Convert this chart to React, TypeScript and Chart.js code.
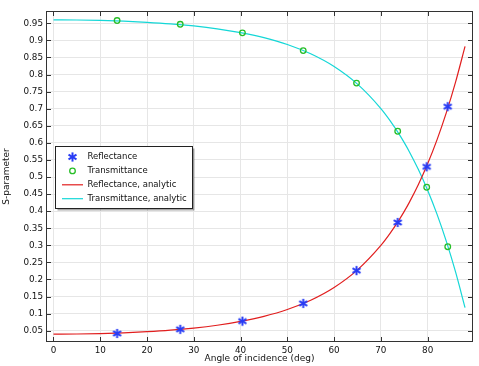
import React, { useEffect, useRef } from "react";
import { Chart, registerables } from "chart.js";

Chart.register(...registerables);

// Measured samples
const sampleAngles = [13.6, 27.1, 40.4, 53.4, 64.8, 73.6, 79.8, 84.3];
const reflectance = [0.042, 0.054, 0.078, 0.13, 0.226, 0.367, 0.53, 0.706];
const transmittance = [0.958, 0.947, 0.922, 0.87, 0.775, 0.634, 0.47, 0.296];

// Analytic curves
const curveAngles = [0, 5, 10, 15, 20, 25, 30, 35, 40, 45, 50, 55, 60, 65, 70, 72, 74, 75, 76, 78, 80, 82, 84, 86, 88];
const reflectanceAnalytic = [
  0.04, 0.0404, 0.0417, 0.0438, 0.0471, 0.0516, 0.0578, 0.0661, 0.0772, 0.092, 0.112, 0.1393, 0.1766,
  0.2281, 0.2996, 0.3356, 0.3767, 0.3994, 0.4236, 0.4773, 0.5386, 0.6086, 0.6884, 0.7793, 0.8826,
];
const transmittanceAnalytic = [
  0.96, 0.9596, 0.9583, 0.9562, 0.9529, 0.9484, 0.9422, 0.9339, 0.9228, 0.908, 0.888, 0.8607, 0.8234,
  0.7719, 0.7004, 0.6644, 0.6233, 0.6006, 0.5764, 0.5227, 0.4614, 0.3914, 0.3116, 0.2207, 0.1174,
];

const xTicks = [0, 10, 20, 30, 40, 50, 60, 70, 80];
const xTickLabels = ["0", "10", "20", "30", "40", "50", "60", "70", "80"];
const yTicks = [0.05, 0.1, 0.15, 0.2, 0.25, 0.3, 0.35, 0.4, 0.45, 0.5, 0.55, 0.6, 0.65, 0.7, 0.75, 0.8, 0.85, 0.9, 0.95];
const yTickLabels = ["0.05", "0.1", "0.15", "0.2", "0.25", "0.3", "0.35", "0.4", "0.45", "0.5", "0.55", "0.6", "0.65", "0.7", "0.75", "0.8", "0.85", "0.9", "0.95"];

const legendLabels = ["Reflectance", "Transmittance", "Reflectance, analytic", "Transmittance, analytic"];

const BLUE = "rgb(40,60,245)";
const GREEN = "rgb(40,190,40)";
const RED = "rgb(225,30,30)";
const CYAN = "rgb(20,215,215)";
const FONT = "DejaVu Sans";
const FS = 8.5;
const TICK_FS = 8.8;
const TITLE_FS = 9;

function drawAsterisk(ctx: CanvasRenderingContext2D, cx: number, cy: number, r: number) {
  ctx.save();
  ctx.strokeStyle = BLUE;
  ctx.lineWidth = 2;
  ctx.lineCap = "butt";
  for (const a of [90, 30, 150]) {
    const rad = (a * Math.PI) / 180;
    const dx = Math.cos(rad) * r;
    const dy = Math.sin(rad) * r;
    ctx.beginPath();
    ctx.moveTo(cx - dx, cy - dy);
    ctx.lineTo(cx + dx, cy + dy);
    ctx.stroke();
  }
  ctx.restore();
}

function makeAsteriskImage() {
  const c = document.createElement("canvas");
  c.width = 11;
  c.height = 11;
  const ctx = c.getContext("2d")!;
  drawAsterisk(ctx, 5.5, 5.5, 4.6);
  return c;
}

const framePlugin = {
  id: "frameLegend",
  afterDraw(chart: any) {
    const { ctx, chartArea } = chart;
    const { left, right, top, bottom } = chartArea;
    const xs = chart.scales.x;
    const ys = chart.scales.y;
    ctx.save();
    // frame
    ctx.strokeStyle = "#333";
    ctx.lineWidth = 1;
    ctx.strokeRect(Math.round(left) + 0.5, Math.round(top) + 0.5, Math.round(right - left) - 1, Math.round(bottom - top) - 1);
    // inward ticks
    ctx.beginPath();
    for (const v of xTicks) {
      const px = Math.round(xs.getPixelForValue(v)) + 0.5;
      ctx.moveTo(px, bottom);
      ctx.lineTo(px, bottom - 5);
      ctx.moveTo(px, top);
      ctx.lineTo(px, top + 5);
    }
    for (const v of yTicks) {
      const py = Math.round(ys.getPixelForValue(v)) + 0.5;
      ctx.moveTo(left, py);
      ctx.lineTo(left + 5, py);
      ctx.moveTo(right, py);
      ctx.lineTo(right - 5, py);
    }
    ctx.stroke();

    // legend
    const x0 = Math.round(left + 9) + 0.5;
    const y0 = Math.round(top + 135) + 0.5;
    const w = 137;
    const h = 62;
    ctx.fillStyle = "rgba(0,0,0,0.35)";
    ctx.fillRect(x0 + 2, y0 + 2, w, h);
    ctx.fillStyle = "#fff";
    ctx.fillRect(x0, y0, w, h);
    ctx.strokeStyle = "#222";
    ctx.lineWidth = 1;
    ctx.strokeRect(x0, y0, w, h);

    const symX = x0 + 17;
    const textX = x0 + 32;
    ctx.font = `${FS}px "${FONT}"`;
    ctx.textBaseline = "middle";
    ctx.textAlign = "left";
    legendLabels.forEach((label, i) => {
      const cy = y0 + 10.5 + i * 13.9;
      if (i === 0) {
        drawAsterisk(ctx, symX, cy, 4.6);
      } else if (i === 1) {
        ctx.strokeStyle = GREEN;
        ctx.lineWidth = 1.3;
        ctx.beginPath();
        ctx.arc(symX, cy, 2.8, 0, Math.PI * 2);
        ctx.stroke();
      } else {
        ctx.strokeStyle = i === 2 ? RED : CYAN;
        ctx.lineWidth = 1.2;
        ctx.beginPath();
        ctx.moveTo(symX - 10.5, cy);
        ctx.lineTo(symX + 10.5, cy);
        ctx.stroke();
      }
      ctx.fillStyle = "#111";
      ctx.fillText(label, textX, cy);
    });
    ctx.restore();
  },
};

export default function App() {
  const ref = useRef<HTMLCanvasElement | null>(null);

  useEffect(() => {
    if (!ref.current) return;
    const asterisk = makeAsteriskImage();
    const chart = new Chart(ref.current, {
      type: "scatter",
      data: {
        datasets: [
          {
            label: legendLabels[0],
            data: sampleAngles.map((x, i) => ({ x, y: reflectance[i] })),
            pointStyle: asterisk as any,
            pointRadius: 5,
            showLine: false,
            order: 0,
          },
          {
            label: legendLabels[1],
            data: sampleAngles.map((x, i) => ({ x, y: transmittance[i] })),
            pointStyle: "circle",
            pointRadius: 2.8,
            pointBorderWidth: 1.3,
            pointBorderColor: GREEN,
            pointBackgroundColor: "rgba(0,0,0,0)",
            showLine: false,
            order: 0,
          },
          {
            label: legendLabels[2],
            data: curveAngles.map((x, i) => ({ x, y: reflectanceAnalytic[i] })),
            showLine: true,
            borderColor: RED,
            borderWidth: 1.2,
            pointRadius: 0,
            cubicInterpolationMode: "monotone",
            order: 1,
          },
          {
            label: legendLabels[3],
            data: curveAngles.map((x, i) => ({ x, y: transmittanceAnalytic[i] })),
            showLine: true,
            borderColor: CYAN,
            borderWidth: 1.2,
            pointRadius: 0,
            cubicInterpolationMode: "monotone",
            order: 1,
          },
        ],
      },
      options: {
        animation: false,
        responsive: true,
        maintainAspectRatio: false,
        layout: { padding: { left: 0, top: 11, right: 5, bottom: 0 } },
        plugins: { legend: { display: false }, tooltip: { enabled: false } },
        scales: {
          x: {
            type: "linear",
            min: -1.6,
            max: 89.7,
            afterFit: (s: any) => {
              s.height = 24;
            },
            afterBuildTicks: (s: any) => {
              s.ticks = xTicks.map((v) => ({ value: v }));
            },
            ticks: {
              padding: 3,
              color: "#111",
              font: { family: FONT, size: TICK_FS },
              maxRotation: 0,
              autoSkip: false,
              callback: (_v: any, i: number) => xTickLabels[i],
            },
            grid: { color: "#e6e6e6", drawTicks: false, lineWidth: 1 },
            border: { display: false },
            title: {
              display: true,
              text: "Angle of incidence (deg)",
              color: "#111",
              font: { family: FONT, size: TITLE_FS },
              padding: { top: 0, bottom: 2 },
            },
          },
          y: {
            type: "linear",
            min: 0.017,
            max: 0.986,
            afterFit: (s: any) => {
              s.width = 46;
            },
            afterBuildTicks: (s: any) => {
              s.ticks = yTicks.map((v) => ({ value: v }));
            },
            ticks: {
              padding: 3,
              color: "#111",
              font: { family: FONT, size: TICK_FS },
              autoSkip: false,
              callback: (_v: any, i: number) => yTickLabels[i],
            },
            grid: { color: "#e6e6e6", drawTicks: false, lineWidth: 1 },
            border: { display: false },
            title: {
              display: true,
              text: "S-parameter",
              color: "#111",
              font: { family: FONT, size: TITLE_FS },
              padding: { top: 1, bottom: 0 },
            },
          },
        },
      },
      plugins: [framePlugin],
    });
    return () => chart.destroy();
  }, []);

  return (
    <div style={{ position: "fixed", left: 0, top: 0, width: 479, height: 366, background: "#fff" }}>
      <canvas ref={ref} />
    </div>
  );
}
